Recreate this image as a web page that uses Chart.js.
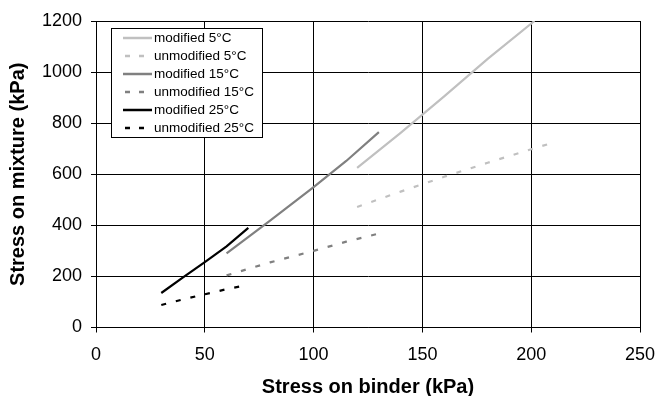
<!DOCTYPE html>
<html>
<head>
<meta charset="utf-8">
<script src="https://cdn.jsdelivr.net/npm/chart.js@4"></script>
<style>
  html, body { margin: 0; padding: 0; background: #fff; }
  #wrap { width: 657px; height: 396px; }
</style>
</head>
<body>
<div id="wrap"><canvas id="stressChart" width="657" height="396"></canvas></div>
<script>
// stress on binder (x) vs stress on mixture (y), kPa
const seriesLabels = ['modified 5°C', 'unmodified 5°C', 'modified 15°C', 'unmodified 15°C', 'modified 25°C', 'unmodified 25°C'];

const binderMod5 = [120, 140, 160, 180, 201.5];
const mixMod5 = [625, 762, 905, 1052, 1200];
const binderUnmod5 = [120, 140, 160, 180, 200, 211];
const mixUnmod5 = [472, 532, 590, 645, 698, 726];

const binderMod15 = [60, 80, 100, 115, 130];
const mixMod15 = [290, 418, 550, 652, 765];
const binderUnmod15 = [60, 80, 100, 115, 130];
const mixUnmod15 = [204, 255, 300, 336, 368];

const binderMod25 = [30, 40, 50, 60, 70];
const mixMod25 = [135, 196, 256, 318, 390];
const binderUnmod25 = [30, 40, 50, 60, 70];
const mixUnmod25 = [88, 110, 130, 150, 167];

const xTicks = [0, 50, 100, 150, 200, 250];
const yTicks = [0, 200, 400, 600, 800, 1000, 1200];

const toPoints = (xs, ys) => xs.map((x, i) => ({ x: x, y: ys[i] }));

function line(label, xs, ys, color, dashed) {
    return {
        label: label,
        data: toPoints(xs, ys),
        showLine: true,
        borderColor: color,
        backgroundColor: color,
        borderWidth: 2.2,
        borderDash: dashed ? [5, 10] : [],
        pointRadius: 0,
        tension: 0
    };
}

// legend box drawn inside the plot, like the original
const boxLegend = {
    id: 'boxLegend',
    afterDatasetsDraw(chart) {
        const ctx = chart.ctx;
        const left = 111, top = 28, w = 151, h = 109;
        ctx.save();
        ctx.fillStyle = '#fff';
        ctx.fillRect(left, top, w, h);
        ctx.strokeStyle = '#000';
        ctx.lineWidth = 1;
        ctx.strokeRect(left + 0.5, top + 0.5, w, h);
        ctx.font = '13.5px "Liberation Sans", Arial, sans-serif';
        ctx.textBaseline = 'middle';
        ctx.fillStyle = '#000';
        chart.data.datasets.forEach((ds, i) => {
            const y = top + 10 + i * 18;
            ctx.strokeStyle = ds.borderColor;
            ctx.lineWidth = 2.5;
            ctx.setLineDash(ds.borderDash.length ? [5, 9] : []);
            ctx.beginPath();
            ctx.moveTo(ds.borderDash.length ? 125 : 123, y);
            ctx.lineTo(152, y);
            ctx.stroke();
            ctx.setLineDash([]);
            ctx.fillText(ds.label, 154, y);
        });
        ctx.restore();
    }
};

const ctx = document.getElementById('stressChart').getContext('2d');
new Chart(ctx, {
    type: 'scatter',
    data: {
        datasets: [
            line(seriesLabels[0], binderMod5, mixMod5, '#c0c0c0', false),
            line(seriesLabels[1], binderUnmod5, mixUnmod5, '#c0c0c0', true),
            line(seriesLabels[2], binderMod15, mixMod15, '#808080', false),
            line(seriesLabels[3], binderUnmod15, mixUnmod15, '#808080', true),
            line(seriesLabels[4], binderMod25, mixMod25, '#000000', false),
            line(seriesLabels[5], binderUnmod25, mixUnmod25, '#000000', true)
        ]
    },
    options: {
        responsive: false,
        animation: false,
        layout: { padding: { left: 0, right: 17, top: 21, bottom: 0 } },
        plugins: {
            legend: { display: false },
            tooltip: { enabled: false }
        },
        scales: {
            x: {
                type: 'linear',
                min: 0,
                max: 250,
                afterBuildTicks: s => { s.ticks = xTicks.map(v => ({ value: v })); },
                afterFit: s => { s.height = 68.5; s.paddingLeft = 0; s.paddingRight = 0; },
                grid: { color: '#000', lineWidth: 1, tickLength: 5 },
                border: { color: '#000', width: 1 },
                ticks: {
                    color: '#000',
                    padding: 12,
                    callback: v => String(v),
                    font: { family: '"Liberation Sans", Arial', size: 18 }
                },
                title: {
                    display: true,
                    text: 'Stress on binder (kPa)',
                    color: '#000',
                    padding: { top: 0, bottom: -3 },
                    font: { family: '"Liberation Sans", Arial', size: 20, weight: 'bold' }
                }
            },
            y: {
                type: 'linear',
                min: 0,
                max: 1200,
                afterBuildTicks: s => { s.ticks = yTicks.map(v => ({ value: v })); },
                afterFit: s => { s.width = 96; s.paddingTop = 0; s.paddingBottom = 0; },
                grid: { color: '#000', lineWidth: 1, tickLength: 5 },
                border: { color: '#000', width: 1 },
                ticks: {
                    color: '#000',
                    padding: 9,
                    callback: v => String(v),
                    font: { family: '"Liberation Sans", Arial', size: 18 }
                },
                title: {
                    display: true,
                    text: 'Stress on mixture (kPa)',
                    color: '#000',
                    padding: { top: 6, bottom: 0 },
                    font: { family: '"Liberation Sans", Arial', size: 20, weight: 'bold' }
                }
            }
        }
    },
    plugins: [boxLegend]
});
</script>
</body>
</html>
